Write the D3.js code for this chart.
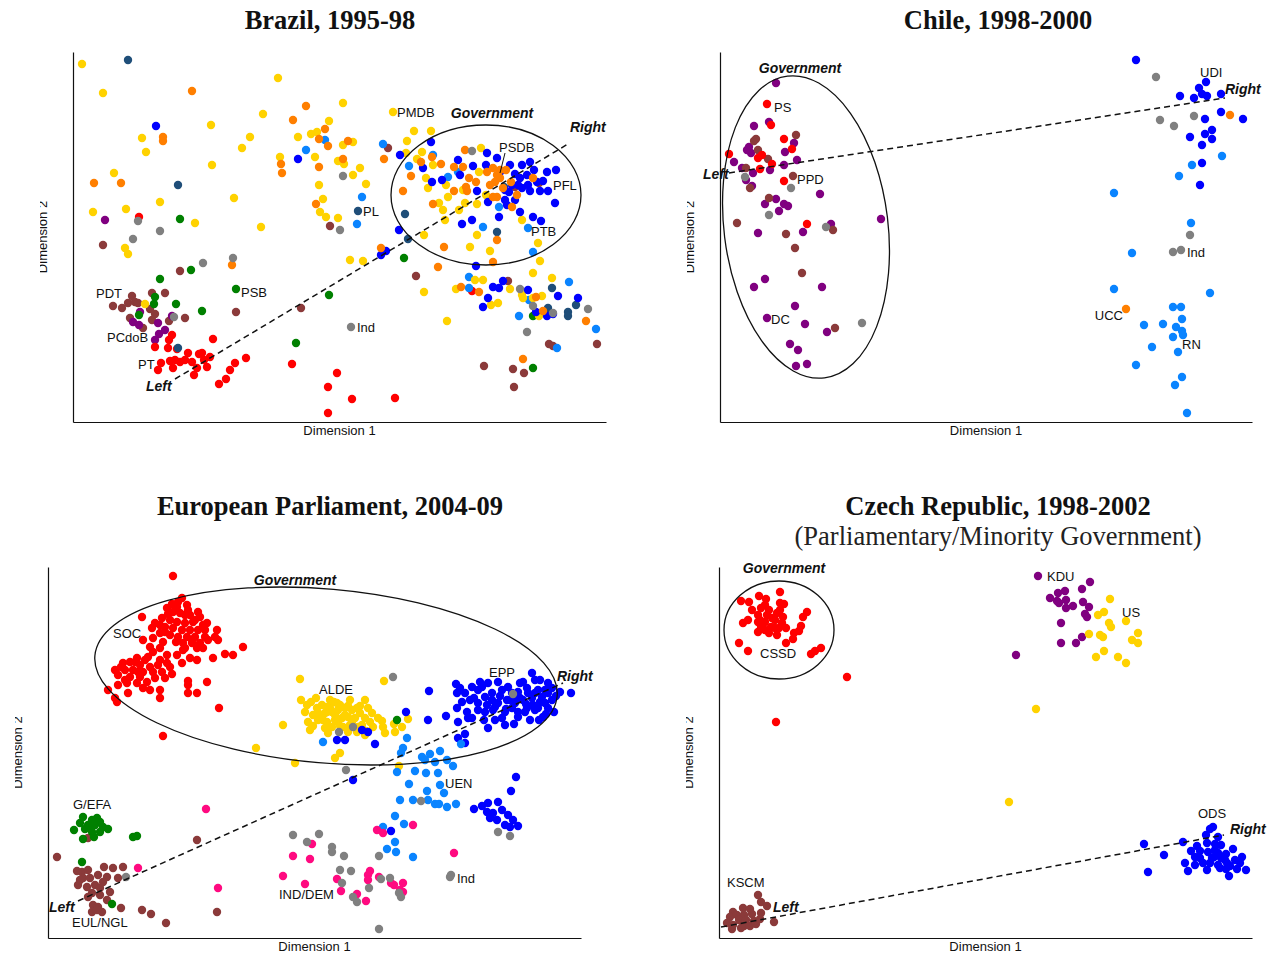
<!DOCTYPE html>
<html>
<head>
<meta charset="utf-8">
<script src="https://cdn.jsdelivr.net/npm/d3@7"></script>
<style>
body { margin: 0; background: #fff; }
.title { font-family: "Liberation Serif", "DejaVu Serif", serif; font-weight: bold; font-size: 26.5px; fill: #111; }
.subtitle { font-family: "Liberation Serif", "DejaVu Serif", serif; font-size: 26.5px; fill: #222; }
.axlab { font-family: "Liberation Sans", Arial, sans-serif; font-size: 13px; fill: #111; }
.party { font-family: "Liberation Sans", Arial, sans-serif; font-size: 13px; fill: #111; }
.bold { font-family: "Liberation Sans", Arial, sans-serif; font-size: 14px; font-weight: bold; font-style: italic; fill: #111; }
.domain { stroke: #111; stroke-width: 1.2; }
</style>
</head>
<body>
<svg id="chart" width="1271" height="953"></svg>
<script>
// colours used in all four maps
var RED = "#ff0000", GOLD = "#ffd200", ORANGE = "#ff7f00", BLUE = "#0000ff",
    SKY = "#0a84ff", NAVY = "#1f4e79", GREEN = "#008000", MAROON = "#8b3a3a",
    PURPLE = "#800080", GRAY = "#808080", PINK = "#ff0a80";

/* ---------- Brazil, 1995-98  (dim1, dim2 scores, arbitrary units) ---------- */
var brPMDB = [[9,358],[30,329],[69,284],[73,270],[138,297],[139,257],[205,344],[190,308],[177,285],[169,274],[41,249],[87,220],[53,213],[20,210],[122,199],[161,224],[188,195],[52,174],[55,168],[72,118],[225,285],[207,265],[238,288],[244,290],[242,265],[246,237],[250,223],[247,210],[253,205],[256,301],[270,319],[270,277],[280,280],[265,261],[271,258],[287,254],[280,247],[293,238],[265,204],[277,162],[290,161],[351,130],[374,101],[320,310],[341,291],[358,291],[334,281],[333,269],[349,270],[344,263],[360,257],[353,244],[355,234],[373,237],[375,225],[366,219],[370,212],[386,212],[392,219],[404,218],[390,232],[372,202],[351,187],[404,187],[397,175],[417,171],[408,274],[406,250],[413,227],[449,202],[465,179],[467,161],[460,149],[402,142],[410,142],[383,133],[437,133],[418,117],[425,119],[479,144],[449,127],[450,124],[460,124],[469,126],[466,106]];
var brPSDB = [[119,331],[90,285],[90,281],[21,239],[48,239],[159,157],[233,316],[220,302],[252,293],[246,283],[255,276],[208,258],[209,249],[246,255],[243,218],[275,281],[270,263],[308,174],[365,155],[311,263],[330,231],[338,246],[348,260],[359,265],[368,258],[381,255],[392,272],[390,255],[396,244],[403,240],[393,235],[394,231],[381,231],[360,218],[420,254],[424,247],[417,237],[422,240],[427,244],[433,252],[438,240],[420,225],[424,225],[444,227],[439,215],[460,244],[424,182],[371,175],[420,160],[427,252],[414,250],[430,234],[388,135],[406,130],[463,125],[470,111],[513,101],[450,63]];
var brPFL = [[83,296],[225,263],[308,167],[313,171],[358,280],[327,267],[385,262],[414,269],[424,264],[400,256],[413,257],[437,257],[449,257],[457,260],[474,250],[483,252],[350,254],[359,240],[369,242],[387,247],[404,231],[415,220],[432,222],[436,230],[447,244],[454,247],[455,237],[445,237],[442,248],[457,231],[467,231],[475,231],[470,241],[464,240],[482,219],[434,217],[426,205],[447,210],[460,205],[468,201],[399,202],[389,198],[326,192],[403,156],[427,250],[439,237],[432,232],[442,222],[449,234],[461,252],[430,141],[420,135],[426,134],[415,124],[410,115],[455,132],[485,126],[505,124],[463,110],[480,108],[474,106]];
var brPTB = [[252,282],[233,272],[289,225],[284,198],[310,278],[336,256],[375,245],[385,250],[360,267],[410,195],[426,215],[455,194],[460,170],[396,145],[396,134],[496,140],[456,122],[446,106],[523,93],[484,74]];
var brPL = [[55,362],[105,237],[105,74],[285,211],[332,208],[335,183],[424,190],[431,235],[479,134],[503,117],[475,114],[495,110],[495,106]];
var brPCdoB = [[32,202],[67,110],[60,100],[66,97],[85,99],[99,106],[92,92],[86,88],[82,82]];
var brPT = [[66,205],[99,87],[96,82],[82,75],[95,74],[104,73],[140,83],[88,59],[85,52],[97,61],[102,62],[107,60],[112,62],[115,69],[119,60],[126,68],[129,69],[131,62],[137,65],[100,54],[124,54],[121,47],[134,55],[162,59],[157,52],[173,64],[153,43],[146,38],[219,58],[255,35],[255,9],[264,49],[279,23],[322,24],[399,131]];
var brPSB = [[107,203],[118,152],[87,143],[163,133],[82,125],[81,118],[103,118],[66,107],[129,111],[223,79],[256,127],[331,164],[460,106],[460,54]];
var brPDT = [[30,177],[107,151],[59,126],[79,129],[92,129],[40,116],[49,114],[55,119],[62,120],[65,119],[77,113],[82,108],[79,102],[57,104],[70,94],[96,101],[112,104],[163,110],[228,114],[257,196],[315,274],[442,235],[466,239],[343,146],[435,141],[476,78],[480,76],[524,78],[440,53],[451,49],[411,56],[441,35]];
var brInd = [[65,201],[87,191],[60,183],[130,159],[160,164],[101,105],[270,246],[267,192],[278,95],[399,271],[447,133],[460,116],[480,109],[515,113],[454,90]];

/* ---------- Chile, 1998-2000 ---------- */
var clDC = [[56,339],[49,300],[34,296],[74,279],[65,270],[77,262],[64,257],[27,272],[31,269],[29,275],[14,260],[22,254],[26,242],[33,249],[50,252],[32,236],[100,228],[56,223],[45,218],[64,218],[68,216],[59,211],[161,203],[111,198],[38,189],[83,190],[45,143],[34,135],[102,135],[75,116],[47,104],[85,98],[107,90],[70,78],[78,72],[76,56],[87,58]];
var clPS = [[47,318],[51,297],[64,283],[72,273],[9,268],[42,267],[38,264],[52,258],[40,253],[64,241],[87,198]];
var clPPD = [[76,287],[34,281],[36,283],[38,272],[48,263],[26,254],[30,234],[73,246],[49,224],[17,199],[66,188],[75,174],[113,192],[82,149],[115,94]];
var clUDI = [[416,362],[486,340],[479,334],[460,326],[474,324],[482,328],[487,326],[501,328],[501,310],[523,303],[485,303],[492,292],[485,288],[492,283],[470,285],[482,277],[482,259],[480,237]];
var clRN = [[502,266],[472,257],[459,246],[394,229],[471,199],[412,169],[394,133],[490,129],[453,115],[461,115],[462,103],[424,97],[443,98],[456,95],[462,91],[463,87],[453,85],[432,75],[458,70],[416,57],[462,45],[455,37],[467,9]];
var clUCC = [[510,307],[406,113]];
var clInd = [[25,245],[71,234],[49,207],[106,195],[142,99],[436,345],[440,302],[454,296],[474,306],[470,187],[453,170],[461,172]];

/* ---------- European Parliament, 2004-09 ---------- */
var epSOC = [[125,362],[130,336],[139,333],[119,330],[94,321],[142,323],[152,321],[125,326],[132,325],[114,320],[122,318],[129,316],[137,315],[145,316],[159,315],[107,315],[104,310],[117,311],[125,310],[134,308],[142,308],[150,308],[169,308],[112,305],[122,303],[130,301],[139,301],[147,301],[157,301],[167,301],[95,298],[105,300],[115,296],[135,295],[144,295],[152,295],[170,298],[102,291],[112,290],[137,290],[149,290],[155,290],[195,291],[105,286],[119,283],[129,283],[142,280],[149,278],[177,284],[185,283],[165,280],[100,281],[89,280],[119,275],[134,275],[82,276],[75,275],[92,273],[102,271],[110,273],[67,268],[77,268],[85,268],[95,266],[105,266],[114,266],[124,264],[70,263],[82,261],[92,261],[107,260],[117,260],[140,257],[159,256],[79,255],[89,255],[95,250],[112,248],[140,253],[60,248],[80,245],[140,245],[149,245],[112,240],[67,240],[69,236],[171,230],[115,202],[124,334],[134,340],[129,331],[120,324],[140,328],[147,318],[155,313],[112,313],[117,306],[128,296],[144,298],[150,326],[157,308],[135,288],[87,276],[97,278],[77,258],[99,256],[112,278],[122,271],[90,266],[73,271],[70,253],[102,248],[160,298],[137,323]];
var epALDE = [[252,259],[235,213],[208,190],[247,175],[336,257],[253,238],[259,233],[263,236],[269,230],[274,233],[279,231],[289,235],[302,238],[317,238],[265,223],[270,225],[277,225],[284,226],[290,228],[297,230],[304,228],[309,230],[312,225],[260,216],[270,218],[279,216],[287,218],[294,220],[300,221],[307,220],[317,220],[324,225],[277,210],[284,211],[295,211],[302,213],[322,216],[334,217],[325,211],[335,211],[262,208],[280,205],[309,206],[317,203],[337,205],[347,206],[354,211],[360,219],[292,185],[287,180],[351,172],[287,223],[292,233],[282,238],[297,223],[272,220],[304,216],[314,213],[290,216],[279,226],[268,240],[282,230],[300,232],[312,232],[320,230],[257,226],[265,212],[292,212],[310,211],[330,220],[318,207],[346,214],[300,206],[286,236],[275,218]];
var epEPP = [[289,198],[297,198],[314,208],[320,206],[327,194],[358,226],[381,247],[398,222],[380,218],[305,158],[408,254],[409,245],[417,245],[422,238],[409,230],[410,216],[420,220],[424,220],[432,256],[440,255],[450,256],[472,255],[484,265],[487,258],[500,255],[430,248],[437,241],[444,245],[454,248],[460,251],[470,246],[479,250],[490,248],[500,245],[504,238],[430,235],[439,233],[450,235],[459,238],[467,235],[475,238],[484,240],[492,236],[500,230],[437,226],[445,228],[457,226],[470,226],[479,230],[487,228],[495,221],[447,218],[457,213],[470,221],[482,218],[491,218],[440,210],[417,204],[410,200],[417,195],[523,245],[424,251],[434,251],[464,245],[480,245],[494,241],[475,256],[444,238],[464,230],[485,233],[454,220],[497,248],[419,226],[467,243],[477,226],[497,235],[447,231],[462,238],[487,245],[412,250],[492,258],[504,250],[508,242],[426,240],[452,242],[472,240],[490,230],[506,226],[478,234],[458,229],[436,218],[466,214],[498,224],[512,246],[430,228],[414,236],[468,161],[463,147],[426,129],[434,132],[440,135],[450,136],[439,126],[445,125],[454,128],[460,123],[449,118],[457,113],[465,118],[470,112],[442,120],[462,111],[343,107]];
var epUEN = [[275,196],[359,200],[355,190],[353,185],[374,181],[382,184],[392,187],[377,178],[387,176],[399,178],[405,172],[349,166],[367,167],[378,165],[390,165],[361,154],[392,153],[379,147],[396,145],[352,138],[365,138],[380,138],[387,134],[391,134],[399,131],[408,134],[347,122],[356,114],[335,111],[347,96],[339,89],[348,86],[365,81],[413,194]];
var epGEFA = [[35,121],[44,118],[49,120],[52,116],[32,115],[40,113],[47,113],[55,111],[60,109],[26,108],[37,109],[44,106],[52,106],[35,99],[46,101],[41,110],[47,115],[85,101],[89,102],[34,76],[64,34],[349,218]];
var epEULNGL = [[9,81],[149,98],[169,26],[118,15],[103,24],[94,28],[73,30],[75,71],[70,60],[62,46],[65,70],[56,71],[29,67],[34,66],[40,68],[35,60],[42,60],[50,63],[59,61],[30,53],[39,51],[47,53],[52,50],[44,45],[40,41],[52,43],[59,38],[45,33],[50,31],[44,26],[54,26],[49,28],[32,58],[55,56],[40,100]];
var epINDDEM = [[158,129],[90,70],[170,50],[264,94],[245,82],[262,79],[235,62],[257,54],[329,108],[335,105],[365,113],[406,85],[289,59],[293,47],[309,44],[318,37],[320,63],[322,67],[320,58],[331,61],[343,55],[346,53],[355,55],[355,46],[352,48]];
var epInd = [[345,261],[291,206],[305,211],[465,244],[373,137],[298,168],[450,106],[462,102],[78,61],[245,103],[271,104],[259,96],[284,91],[284,86],[296,82],[331,82],[292,68],[303,67],[294,55],[321,50],[342,60],[351,45],[305,41],[309,36],[331,9],[402,61],[403,63],[333,59],[353,41]];

/* ---------- Czech Republic, 1998-2002 ---------- */
var czCSSD = [[61,346],[40,342],[22,337],[30,336],[47,339],[61,335],[65,334],[33,328],[42,330],[50,328],[39,323],[48,323],[58,325],[64,321],[88,326],[84,321],[29,318],[24,315],[39,316],[46,316],[56,318],[63,315],[42,311],[52,311],[60,310],[67,310],[82,312],[39,306],[50,305],[58,303],[75,305],[80,307],[74,299],[67,295],[20,295],[29,287],[102,290],[96,287],[92,284],[128,261],[57,216],[46,333],[53,320],[41,318],[56,310],[46,308],[61,328]];
var czKDU = [[319,362],[371,356],[339,345],[346,347],[363,349],[331,340],[338,337],[347,338],[364,336],[340,335],[354,332],[347,330],[370,331],[366,324],[368,321],[342,315],[363,301],[357,295],[342,295],[297,283]];
var czUS = [[391,339],[385,326],[379,323],[407,317],[390,315],[392,311],[370,304],[381,303],[384,301],[419,305],[413,298],[419,295],[385,287],[377,281],[399,281],[407,275],[317,229],[290,136]];
var czODS = [[494,111],[491,109],[487,103],[499,101],[425,94],[464,96],[488,95],[496,94],[502,93],[478,92],[514,89],[472,87],[481,87],[489,86],[499,85],[507,84],[445,83],[476,81],[493,80],[502,80],[523,81],[516,78],[484,75],[491,75],[466,75],[508,75],[521,75],[499,73],[488,68],[501,70],[507,69],[518,69],[527,68],[429,66],[469,67],[510,62],[495,81],[481,80],[496,88],[506,78],[511,72],[476,73]];
var czKSCM = [[39,43],[42,36],[48,32],[24,30],[31,29],[14,26],[11,21],[18,23],[25,23],[33,24],[42,25],[20,18],[27,18],[35,17],[41,19],[55,16],[8,15],[14,13],[25,12],[31,12],[37,14],[13,9],[22,10]];

// text on the maps: [text, dim1, dim2, kind, anchor]
var brNotes = [["PDT",23,129],["PCdoB",34,85],["PT",65,58],["PSB",168,130],["Ind",284,95],["PL",290,211],["PMDB",324,310],["PSDB",426,275],["PFL",480,237],["PTB",458,191],["Left",73,36,"b"],["Right",497,295,"b"],["Government",419,309,"b","middle"]];
var clNotes = [["PS",54,315],["PPD",77,243],["DC",51,103],["UDI",480,350],["Ind",467,170],["UCC",403,107,"p","end"],["RN",462,78],["Left",-17,248,"b"],["Right",505,333,"b"],["Government",80,354,"b","middle"]];
var epNotes = [["SOC",65,305],["ALDE",271,249],["EPP",441,266],["UEN",397,155],["G/EFA",25,134],["EUL/NGL",24,16],["IND/DEM",231,44],["Ind",409,60],["Left",1,31,"b"],["Right",509,262,"b"],["Government",247,358,"b","middle"]];
var czNotes = [["KDU",328,362],["US",403,326],["CSSD",41,285],["ODS",479,125],["KSCM",8,56],["Left",54,31,"b"],["Right",511,109,"b"],["Government",65,370,"b","middle"]];

var svg = d3.select("#chart");
var defs = svg.append("defs");

var panels = [
  { id: "br", title: "Brazil, 1995-98", tx: 330, ty: 29, left: 73, bottom: 422, w: 533, h: 370,
    series: [[brPDT, MAROON], [brPCdoB, PURPLE], [brPSB, GREEN], [brPT, RED], [brPL, NAVY], [brPTB, SKY], [brPMDB, GOLD], [brPFL, BLUE], [brPSDB, ORANGE], [brInd, GRAY]],
    notes: brNotes, ell: { cx: 413, cy: 227, rx: 95, ry: 70, rot: 0 },
    axis: [[102, 43], [495, 278]], leader: [[432, 269], [427, 249]] },
  { id: "cl", title: "Chile, 1998-2000", tx: 998, ty: 29, left: 720, bottom: 422, w: 532, h: 370,
    series: [[clDC, PURPLE], [clPPD, MAROON], [clPS, RED], [clUDI, BLUE], [clRN, SKY], [clUCC, ORANGE], [clInd, GRAY]],
    notes: clNotes, ell: { cx: 86, cy: 195, rx: 82, ry: 152, rot: -7 },
    axis: [[9, 249], [505, 324]] },
  { id: "ep", title: "European Parliament, 2004-09", tx: 330, ty: 515, left: 48, bottom: 938, w: 533, h: 371,
    series: [[epSOC, RED], [epALDE, GOLD], [epEPP, BLUE], [epUEN, SKY], [epEULNGL, MAROON], [epGEFA, GREEN], [epINDDEM, PINK], [epInd, GRAY]],
    notes: epNotes, ell: { cx: 278, cy: 262, rx: 232, ry: 87, rot: 5 },
    axis: [[30, 37], [515, 255]] },
  { id: "cz", title: "Czech Republic, 1998-2002", sub: "(Parliamentary/Minority Government)", tx: 998, ty: 515, left: 719, bottom: 938, w: 533, h: 371,
    series: [[czCSSD, RED], [czKDU, PURPLE], [czUS, GOLD], [czODS, BLUE], [czKSCM, MAROON]],
    notes: czNotes, ell: { cx: 60, cy: 308, rx: 55, ry: 49, rot: 0 },
    axis: [[2, 11], [505, 103]] }
];

panels.forEach(function(p) {
  var g = svg.append("g");
  var x = d3.scaleLinear().domain([0, p.w]).range([p.left, p.left + p.w]);
  var y = d3.scaleLinear().domain([0, p.h]).range([p.bottom, p.bottom - p.h]);

  g.append("text").attr("class", "title").attr("x", p.tx).attr("y", p.ty)
    .attr("text-anchor", "middle").text(p.title);
  if (p.sub) {
    g.append("text").attr("class", "subtitle").attr("x", p.tx).attr("y", p.ty + 30)
      .attr("text-anchor", "middle").text(p.sub);
  }

  // bare axes, no ticks
  g.append("g").attr("transform", "translate(0," + p.bottom + ")")
    .call(d3.axisBottom(x).tickValues([]).tickSizeOuter(0));
  g.append("g").attr("transform", "translate(" + p.left + ",0)")
    .call(d3.axisLeft(y).tickValues([]).tickSizeOuter(0));

  g.append("text").attr("class", "axlab").attr("x", x(p.w / 2)).attr("y", p.bottom + 13)
    .attr("text-anchor", "middle").text("Dimension 1");

  // the y label is cut off on its left side in the original
  defs.append("clipPath").attr("id", "clip-" + p.id)
    .append("rect").attr("x", p.left - 33).attr("y", p.bottom - p.h).attr("width", 30).attr("height", p.h);
  g.append("g").attr("clip-path", "url(#clip-" + p.id + ")")
    .append("text").attr("class", "axlab")
    .attr("transform", "translate(" + (p.left - 26) + "," + y(p.h / 2) + ") rotate(-90)")
    .attr("text-anchor", "middle").text("Dimension 2");

  p.series.forEach(function(s) {
    g.append("g").selectAll("circle").data(s[0]).join("circle")
      .attr("cx", function(d) { return x(d[0]); })
      .attr("cy", function(d) { return y(d[1]); })
      .attr("r", 4.2)
      .attr("fill", s[1]);
  });

  var e = p.ell;
  g.append("ellipse")
    .attr("transform", "translate(" + x(e.cx) + "," + y(e.cy) + ") rotate(" + e.rot + ")")
    .attr("rx", x(e.rx) - x(0)).attr("ry", y(0) - y(e.ry))
    .attr("fill", "none").attr("stroke", "#111").attr("stroke-width", 1.3);

  g.append("line")
    .attr("x1", x(p.axis[0][0])).attr("y1", y(p.axis[0][1]))
    .attr("x2", x(p.axis[1][0])).attr("y2", y(p.axis[1][1]))
    .attr("stroke", "#111").attr("stroke-width", 1.5).attr("stroke-dasharray", "6,4");

  if (p.leader) {
    g.append("line")
      .attr("x1", x(p.leader[0][0])).attr("y1", y(p.leader[0][1]))
      .attr("x2", x(p.leader[1][0])).attr("y2", y(p.leader[1][1]))
      .attr("stroke", "#111").attr("stroke-width", 1);
  }

  g.append("g").selectAll("text").data(p.notes).join("text")
    .attr("class", function(d) { return d[3] == "b" ? "bold" : "party"; })
    .attr("x", function(d) { return x(d[1]); })
    .attr("y", function(d) { return y(d[2]); })
    .attr("dy", "0.35em")
    .attr("text-anchor", function(d) { return d[4] || "start"; })
    .text(function(d) { return d[0]; });
});
</script>
</body>
</html>
